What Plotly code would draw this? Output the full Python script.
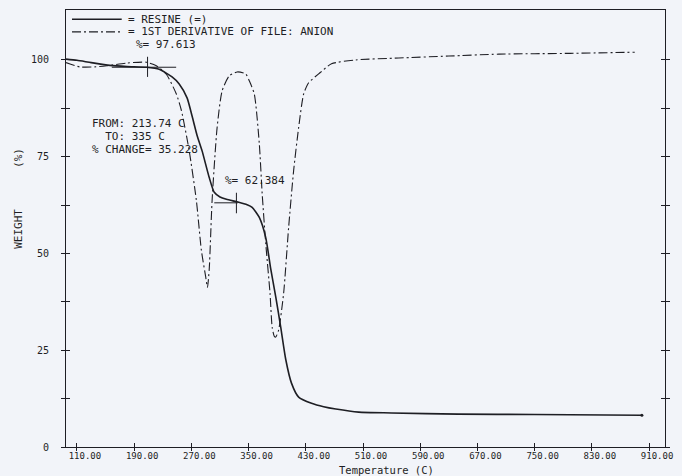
import plotly.graph_objects as go

# ---- data ----
temp_tg = [94.7, 110, 130, 156, 180, 207, 225, 243, 253, 264, 271, 278, 285, 295, 302,
           310, 319, 335, 348, 355, 365, 374, 381, 388, 395, 402, 410, 420, 438, 455,
           472, 504, 550, 643, 750, 900]
weight_tg = [100.2, 99.9, 99.3, 98.6, 98.3, 98.1, 97.6, 95.6, 93.8, 90.2, 85.5, 80.5, 76.5,
             69.6, 65.8, 64.6, 64.0, 63.3, 62.6, 61.9, 59.3, 54.1, 46.0, 38.8, 30.9, 22.6,
             16.5, 12.9, 11.3, 10.4, 9.8, 9.0, 8.8, 8.5, 8.4, 8.2]

temp_dtg = [94.7, 114, 135, 152, 180, 207, 221, 235, 249, 256, 267, 277, 284, 290, 292.5,
            295, 299, 306, 313, 323, 334, 346, 351, 358, 365, 369, 374, 380, 383, 386,
            388, 392, 399, 406, 413, 420, 427, 434, 448, 466, 500, 560, 630, 700, 800, 890]
dtg = [99.3, 98.2, 98.2, 98.5, 99.2, 99.4, 98.5, 96.3, 91.2, 87.0, 76.5, 63.7, 50.8, 44.0,
       41.2, 46.0, 63.7, 82.5, 92.0, 95.9, 96.9, 96.4, 94.6, 91.2, 78.4, 65.5, 52.6, 39.7,
       30.9, 28.6, 28.4, 30.2, 39.7, 56.7, 71.4, 82.5, 91.2, 94.1, 96.4, 99.0, 100.0, 100.5,
       101.0, 101.5, 101.7, 102.0]

x_tick_vals = [110, 190, 270, 350, 430, 510, 590, 670, 750, 830, 910]
x_tick_text = ["110.00", "190.00", "270.00", "350.00", "430.00", "510.00", "590.00",
               "670.00", "750.00", "830.00", "910.00"]
y_tick_vals = [0, 12.5, 25, 37.5, 50, 62.5, 75, 87.5, 100]
y_tick_text = ["0", "", "25", "", "50", "", "75", "", "100"]

series_names = ["= RESINE (=)", "= 1ST DERIVATIVE OF FILE: ANION"]
step_from_t, step_from_w = 213.74, 97.613
step_to_t, step_to_w = 335, 62.384
pct_change = "35.228"

x_range = [94.7, 932.3]
y_range = [0, 112.9]

INK = "#1e1e24"
BG = "#f2f4f9"
FONT = "DejaVu Sans Mono"
DASH = "9px,3px,2px,3px"

fig = go.Figure()
fig.add_trace(go.Scatter(x=temp_tg, y=weight_tg, mode="lines", name=series_names[0],
                         line=dict(color=INK, width=1.6, shape="spline", smoothing=0.6),
                         showlegend=False))
fig.add_trace(go.Scatter(x=[temp_tg[-1]], y=[weight_tg[-1]], mode="markers",
                         marker=dict(color=INK, size=3), showlegend=False))
fig.add_trace(go.Scatter(x=temp_dtg, y=dtg, mode="lines", name=series_names[1],
                         line=dict(color=INK, width=1.1, dash=DASH, shape="spline",
                                   smoothing=0.6),
                         showlegend=False))
# dummy trace for crossing ticks
fig.add_trace(go.Scatter(x=[None], y=[None], xaxis="x2", yaxis="y2", showlegend=False,
                         hoverinfo="skip"))

shapes = []
# tangent markers
shapes.append(dict(type="line", xref="x", yref="y", x0=step_from_t - 55, x1=step_from_t + 35,
                   y0=step_from_w + 0.5, y1=step_from_w + 0.5, line=dict(color=INK, width=1)))
shapes.append(dict(type="line", xref="x", yref="y", x0=step_from_t - 5, x1=step_from_t - 5,
                   y0=step_from_w - 2.0, y1=step_from_w + 3.2, line=dict(color=INK, width=1)))
shapes.append(dict(type="line", xref="x", yref="y", x0=step_to_t - 33, x1=step_to_t,
                   y0=step_to_w + 0.7, y1=step_to_w + 0.7, line=dict(color=INK, width=1)))
shapes.append(dict(type="line", xref="x", yref="y", x0=step_to_t - 2, x1=step_to_t - 2,
                   y0=step_to_w - 2.0, y1=step_to_w + 3.3, line=dict(color=INK, width=1)))
# legend samples
shapes.append(dict(type="line", xref="paper", yref="paper", x0=0.01, x1=0.093,
                   y0=0.979, y1=0.979, line=dict(color=INK, width=1.4)))
shapes.append(dict(type="line", xref="paper", yref="paper", x0=0.01, x1=0.093,
                   y0=0.950, y1=0.950, line=dict(color=INK, width=1.1, dash=DASH)))

tf = dict(family=FONT, size=11, color=INK)
ann = []
ann.append(dict(xref="paper", yref="paper", x=0.0997, y=0.979, text=series_names[0],
                showarrow=False, xanchor="left", yanchor="middle", font=tf))
ann.append(dict(xref="paper", yref="paper", x=0.0997, y=0.950, text=series_names[1],
                showarrow=False, xanchor="left", yanchor="middle", font=tf))
ann.append(dict(xref="x", yref="y", x=step_from_t, y=step_from_w, text=f"%= {step_from_w}",
                showarrow=False, xanchor="left", yanchor="middle", xshift=-17, yshift=25,
                font=tf))
ann.append(dict(xref="x", yref="y", x=step_to_t, y=step_to_w, text=f"%= {step_to_w}",
                showarrow=False, xanchor="left", yanchor="middle", xshift=-15, yshift=25,
                font=tf))
ann.append(dict(xref="paper", yref="paper", x=0.0399, y=0.740,
                text=f"FROM: {step_from_t} C", showarrow=False, xanchor="left",
                yanchor="middle", font=tf))
ann.append(dict(xref="paper", yref="paper", x=0.0399, y=0.710,
                text=f"\u00a0\u00a0TO: {step_to_t} C", showarrow=False, xanchor="left",
                yanchor="middle", font=tf))
ann.append(dict(xref="paper", yref="paper", x=0.0399, y=0.680,
                text=f"% CHANGE= {pct_change}", showarrow=False, xanchor="left",
                yanchor="middle", font=tf))
ann.append(dict(xref="paper", yref="paper", x=0.535, y=-0.053, text="Temperature (C)",
                showarrow=False, xanchor="center", yanchor="middle",
                font=dict(family=FONT, size=10.5, color=INK)))
ann.append(dict(xref="paper", yref="paper", x=-0.0797, y=0.50, text="WEIGHT",
                showarrow=False, textangle=-90, xanchor="center", yanchor="middle",
                font=tf))
ann.append(dict(xref="paper", yref="paper", x=-0.0797, y=0.662, text="(%)",
                showarrow=False, textangle=-90, xanchor="center", yanchor="middle",
                font=tf))

axis_common = dict(showgrid=False, zeroline=False, linecolor=INK, linewidth=1,
                   tickcolor=INK, tickwidth=1)

fig.update_layout(
    width=682, height=476,
    margin=dict(l=66, r=14, t=9, b=29),
    paper_bgcolor=BG, plot_bgcolor=BG,
    shapes=shapes, annotations=ann,
    xaxis=dict(range=x_range, tickvals=x_tick_vals, ticktext=x_tick_text, ticks="inside",
               ticklen=4, showline=True, mirror=True, ticklabelshift=8,
               tickfont=dict(family=FONT, size=9, color=INK), **axis_common),
    yaxis=dict(range=y_range, tickvals=y_tick_vals, ticktext=y_tick_text, ticks="outside",
               ticklen=4, showline=True, mirror="ticks", ticklabelstandoff=10,
               tickfont=dict(family=FONT, size=10, color=INK), **axis_common),
    xaxis2=dict(range=x_range, overlaying="x", tickvals=x_tick_vals, ticks="outside",
                ticklen=3, showticklabels=False, showline=False, **axis_common),
    yaxis2=dict(range=y_range, overlaying="y", tickvals=y_tick_vals, ticks="inside",
                ticklen=4, showticklabels=False, showline=False, mirror="ticks",
                **axis_common),
)

fig.write_html("out.html", config={"displayModeBar": False},
               post_script="document.body.style.margin='0';document.body.style.background='%s';" % BG)
